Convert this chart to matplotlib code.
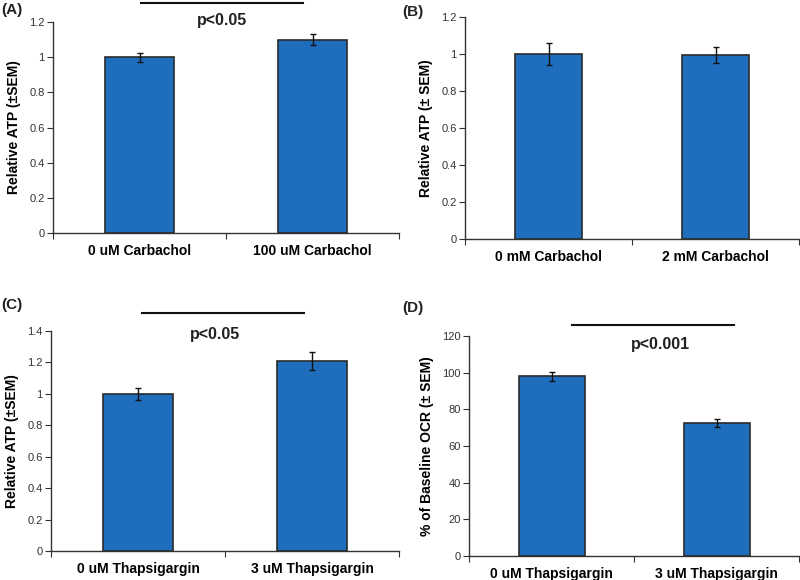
import matplotlib
matplotlib.use("Agg")
import matplotlib.pyplot as plt
import numpy as np

plt.rcParams['font.family'] = ['Liberation Sans', 'DejaVu Sans']

# Data
cats_a = ["0 uM Carbachol", "100 uM Carbachol"]
vals_a = [1.00, 1.10]
err_a = [0.025, 0.03]

cats_b = ["0 mM Carbachol", "2 mM Carbachol"]
vals_b = [1.00, 0.995]
err_b = [0.058, 0.045]

cats_c = ["0 uM Thapsigargin", "3 uM Thapsigargin"]
vals_c = [1.00, 1.21]
err_c = [0.04, 0.055]

cats_d = ["0 uM Thapsigargin", "3 uM Thapsigargin"]
vals_d = [98.0, 72.5]
err_d = [2.5, 2.2]

W, H = 800, 580
fig = plt.figure(figsize=(8, 5.8), dpi=100)

def mkax(l, r, t, b):
    return fig.add_axes([l / W, (H - b) / H, (r - l) / W, (b - t) / H])

BAR = '#1f6ebe'
EDGE = '#2a2a2a'

def panel(ax, cats, vals, errs, ymax, ystep, ylabel, fmt):
    x = np.array([0.5, 1.5])
    ax.bar(x, vals, width=0.4, color=BAR, edgecolor=EDGE, linewidth=1.2, zorder=2)
    ax.errorbar(x, vals, yerr=errs, fmt='none', ecolor='#111111', elinewidth=1.0,
                capsize=2.5, capthick=1.0, zorder=3)
    ax.set_xlim(0, 2)
    ax.set_ylim(0, ymax)
    ticks = np.arange(0, ymax + ystep / 2, ystep)
    ax.set_yticks(ticks)
    ax.set_yticklabels([fmt(t) for t in ticks], fontsize=8, color='#333333')
    ax.set_xticks([0, 1, 2])
    ax.set_xticklabels([])
    ax.set_xticks(x, minor=True)
    ax.set_xticklabels(cats, minor=True, fontsize=10, fontweight='bold')
    ax.tick_params(axis='x', which='minor', length=0, pad=8)
    ax.tick_params(axis='x', which='major', direction='out', length=4, color='#333333')
    ax.tick_params(axis='y', direction='out', length=4, color='#333333', pad=2)
    for s in ['top', 'right']:
        ax.spines[s].set_visible(False)
    for s in ['left', 'bottom']:
        ax.spines[s].set_color('#333333')
        ax.spines[s].set_linewidth(1.0)
    ax.set_ylabel(ylabel, fontsize=10, fontweight='bold', labelpad=6)

def fmt_dec(t):
    s = f"{t:.1f}"
    if s.endswith('.0'):
        s = s[:-2]
    return s

def fmt_int(t):
    return f"{int(round(t))}"

axA = mkax(53, 399, 22, 233)
panel(axA, cats_a, vals_a, err_a, 1.2, 0.2, "Relative ATP (\u00b1SEM)", fmt_dec)
axB = mkax(465, 799, 17, 239)
panel(axB, cats_b, vals_b, err_b, 1.2, 0.2, "Relative ATP (\u00b1 SEM)", fmt_dec)
axC = mkax(51, 399, 331, 551)
panel(axC, cats_c, vals_c, err_c, 1.4, 0.2, "Relative ATP (\u00b1SEM)", fmt_dec)
axD = mkax(469, 799, 336, 556)
panel(axD, cats_d, vals_d, err_d, 120, 20, "% of Baseline OCR (\u00b1 SEM)", fmt_int)

def sig(x0, x1, yline, ytext, xtext, text):
    # positions in figure pixels
    fig.add_artist(plt.Line2D([x0 / W, x1 / W], [(H - yline) / H, (H - yline) / H],
                              color='#111111', linewidth=1.5))
    fig.text(xtext / W, (H - ytext) / H, text, ha='center', va='center',
             fontsize=11.5, fontweight='bold', color='#222222')

sig(141, 303, 3, 20, 222, "p<0.05")
sig(142, 304, 313, 334, 215, "p<0.05")
sig(572, 734, 325, 345, 661, "p<0.001")

for lab, xp, yp in [("(A)", 1, 10), ("(B)", 402, 12), ("(C)", 1, 305), ("(D)", 402, 308)]:
    fig.text(xp / W, (H - yp) / H, lab, ha='left', va='center', fontsize=11,
             fontweight='bold', color='#222222')

fig.savefig("out.png", dpi=100)
